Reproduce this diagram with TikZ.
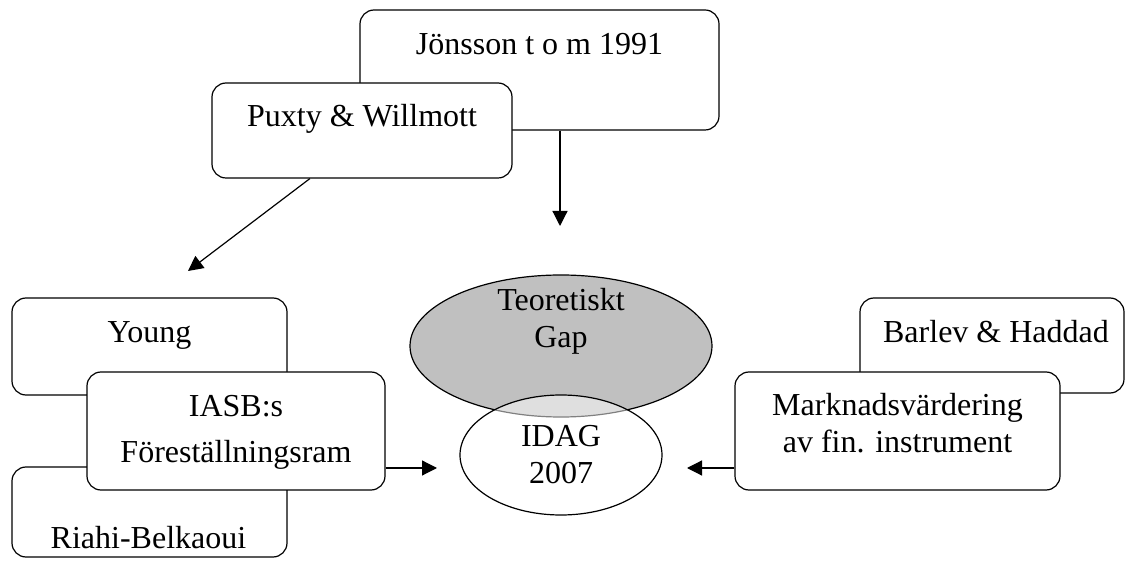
\documentclass[tikz,border=0pt]{standalone}
\usepackage{fontspec}
\setmainfont{Liberation Serif}
\usetikzlibrary{positioning,arrows.meta,calc,shapes.geometric}
\definecolor{gapgray}{RGB}{192,192,192}

\begin{document}
\begin{tikzpicture}[
  x=0.5pt,y=-0.5pt,
  >={Triangle[length=7.5pt,width=7.5pt]},
  refbox/.style={draw=black,line width=0.6pt,fill=white,rounded corners=7pt,inner sep=0pt},
  reftext/.style={font=\fontsize{16}{18.5}\selectfont,align=center,inner sep=0pt,anchor=base},
  gapell/.style={ellipse,draw=black,line width=0.6pt,fill=gapgray,inner sep=0pt,minimum width=151pt,minimum height=71pt},
  nowell/.style={ellipse,draw=black,line width=0.6pt,fill=white,fill opacity=0.5,text opacity=1,inner sep=0pt,minimum width=101pt,minimum height=60pt,font=\fontsize{16}{18.5}\selectfont,align=center},
  ar/.style={->,line width=0.6pt}
]
\useasboundingbox (0,0) rectangle (1126,561);

% TOP: older sources
\node[refbox,minimum width=179.5pt,minimum height=60pt] (jon) at (539.5,70) {};
\node[reftext] (jonT) at (539.5,55) {Jönsson t o m 1991};
\node[refbox,minimum width=150pt,minimum height=47.5pt] (pux) at (362,130.5) {};
\node[reftext] (puxT) at (362,127) {Puxty \& Willmott};

% LEFT: framework group
\node[refbox,minimum width=137.5pt,minimum height=48.5pt] (young) at (149.5,346.5) {};
\node[reftext] (youngT) at (149.5,343) {Young};
\node[refbox,minimum width=137.5pt,minimum height=45pt] (riahi) at (149.5,512) {};
\node[reftext] (riahiT) at (148.5,548) {Riahi-Belkaoui};
\node[refbox,minimum width=149pt,minimum height=59pt] (iasb) at (236,431) {};
\node[reftext] (iasbT) at (236,463) {IASB:s\\[4.5pt] Föreställningsram};

% RIGHT: valuation group
\node[refbox,minimum width=132pt,minimum height=47.5pt] (barlev) at (992,345.5) {};
\node[reftext] (barlevT) at (996,343) {Barlev \& Haddad};
\node[refbox,minimum width=162.5pt,minimum height=59pt] (markn) at (897.5,431) {};
\node[reftext] (marknT) at (897.5,453) {Marknadsvärdering\\av fin. instrument};

% CENTRE: gap and today
\node[gapell] (gap) at (561,346) {};
\node[reftext] (gapT) at (561,348) {Teoretiskt\\Gap};
\node[nowell] (idag) at (561,455) {IDAG\\2007};

% arrows
\coordinate (jonTip) at (560,226);
\draw[ar] (jon.south -| jonTip) -- (jonTip);
\coordinate (puxTip) at (188,271);
\draw[ar] ($(pux.south west)!0.327!(pux.south east)$) -- (puxTip);
\coordinate (leftTip) at (437,468);
\draw[ar] (iasb.east |- leftTip) -- (leftTip);
\coordinate (rightTip) at (687,468);
\draw[ar] (markn.west |- rightTip) -- (rightTip);
\end{tikzpicture}
\end{document}
